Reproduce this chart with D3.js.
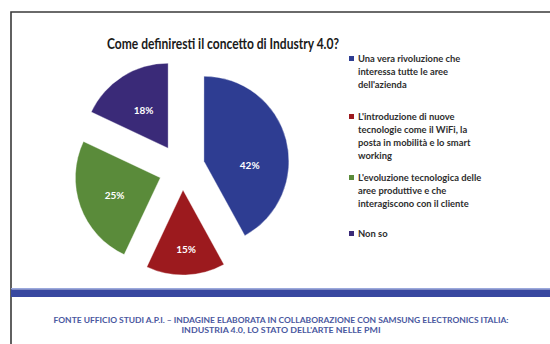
<!DOCTYPE html>
<html>
<head>
<meta charset="utf-8">
<script src="https://cdn.jsdelivr.net/npm/d3@7/dist/d3.min.js"></script>
<style>
  html, body { margin: 0; padding: 0; background: #ffffff; }
  svg { display: block; }
</style>
</head>
<body>
<svg id="chart" width="550" height="344"></svg>
<script>
// Survey answers: "Come definiresti il concetto di Industry 4.0?"
const categories = [
  "Una vera rivoluzione che interessa tutte le aree dell'azienda",
  "L'introduzione di nuove tecnologie come il WiFi, la posta in mobilità e lo smart working",
  "L'evoluzione tecnologica delle aree produttive e che interagiscono con il cliente",
  "Non so"
];
const values = [42, 15, 25, 18];
const legendLines = [
  ["Una vera rivoluzione che", "interessa tutte le aree", "dell'azienda"],
  ["L'introduzione di nuove", "tecnologie come il WiFi, la", "posta in mobilità e lo smart", "working"],
  ["L'evoluzione tecnologica delle", "aree produttive e che", "interagiscono con il cliente"],
  ["Non so"]
];
const titleText = "Come definiresti il concetto di Industry 4.0?";
const sourceLines = [
  "FONTE UFFICIO STUDI A.P.I. – INDAGINE ELABORATA IN COLLABORAZIONE CON SAMSUNG ELECTRONICS ITALIA:",
  "INDUSTRIA 4.0, LO STATO DELL'ARTE NELLE PMI"
];

// Styling
const colors = ["#2e3d92", "#9c1a1e", "#5a8b3a", "#3a2a78"];
const pieCenter = [183, 163];
const radius = 85;
// explode: distance and direction (degrees clockwise from top) for each slice
const explode = [[21, 85], [27, 180], [27, 237], [21, 315]];
// label placement relative to slice tip: [angle deg, distance]
const labelPlace = [[96, 46], [177, 60], [249, 49], [327, 45]];

const svg = d3.select("#chart");
const font = "Lato, 'Open Sans', sans-serif";

// page frame
svg.append("rect").attr("x", 0).attr("y", 0).attr("width", 550).attr("height", 344).attr("fill", "#ffffff");
svg.append("path")
  .attr("d", "M11,344 L11,12 L550,12")
  .attr("fill", "none").attr("stroke", "#3a3a3a").attr("stroke-width", 1.6);

// title
svg.append("text")
  .attr("x", 223).attr("y", 49)
  .attr("text-anchor", "middle")
  .attr("textLength", 232).attr("lengthAdjust", "spacingAndGlyphs")
  .style("font-family", font).style("font-weight", 700).style("font-size", "15px")
  .attr("fill", "#1a1a1a")
  .text(titleText);

// pie
const pie = d3.pie().sort(null).value(d => d).startAngle(0).endAngle(2 * Math.PI);
const arc = d3.arc().innerRadius(0).outerRadius(radius);
const arcs = pie(values);
const polar = (deg, r) => {
  const a = deg * Math.PI / 180;
  return [Math.sin(a) * r, -Math.cos(a) * r];
};

const g = svg.append("g").attr("transform", `translate(${pieCenter[0]},${pieCenter[1]})`);
const slices = g.selectAll("g.slice").data(arcs).join("g")
  .attr("class", "slice")
  .attr("transform", (d, i) => {
    const [dx, dy] = polar(explode[i][1], explode[i][0]);
    return `translate(${dx},${dy})`;
  });

slices.append("path")
  .attr("d", arc)
  .attr("fill", (d, i) => colors[i])
  .attr("stroke", "#ffffff").attr("stroke-opacity", 0.35).attr("stroke-width", 1);

slices.append("text")
  .attr("transform", (d, i) => {
    const [x, y] = polar(labelPlace[i][0], labelPlace[i][1]);
    return `translate(${x},${y})`;
  })
  .attr("text-anchor", "middle").attr("dy", "0.35em")
  .style("font-family", font).style("font-weight", 700).style("font-size", "10px")
  .attr("fill", "#ffffff")
  .text(d => d.data + "%");

// legend
const legend = svg.append("g").attr("transform", "translate(349,0)");
const lineH = 13;
const itemTop = [59, 117, 178, 234];
categories.forEach((c, i) => {
  const item = legend.append("g").attr("transform", `translate(0,${itemTop[i]})`);
  item.append("rect").attr("x", 0).attr("y", -3).attr("width", 5).attr("height", 5).attr("fill", colors[i]);
  item.selectAll("text").data(legendLines[i]).join("text")
    .attr("x", 9).attr("y", (d, j) => j * lineH).attr("dy", "0.35em")
    .style("font-family", font).style("font-weight", 700).style("font-size", "9.4px")
    .attr("fill", "#2e2e2e")
    .text(d => d);
});

// bottom band
svg.append("rect").attr("x", 11).attr("y", 288).attr("width", 539).attr("height", 1.5).attr("fill", "#9aa8dc");
svg.append("rect").attr("x", 11).attr("y", 289.5).attr("width", 539).attr("height", 7.5).attr("fill", "#3848a0");

// source note
const srcLen = [455, 199];
svg.selectAll("text.src").data(sourceLines).join("text")
  .attr("class", "src")
  .attr("x", 281).attr("y", (d, i) => 323 + i * 10)
  .attr("text-anchor", "middle")
  .attr("textLength", (d, i) => srcLen[i]).attr("lengthAdjust", "spacingAndGlyphs")
  .style("font-family", font).style("font-weight", 700).style("font-size", "6.5px")
  .attr("fill", "#4a58a0")
  .text(d => d);
</script>
</body>
</html>
